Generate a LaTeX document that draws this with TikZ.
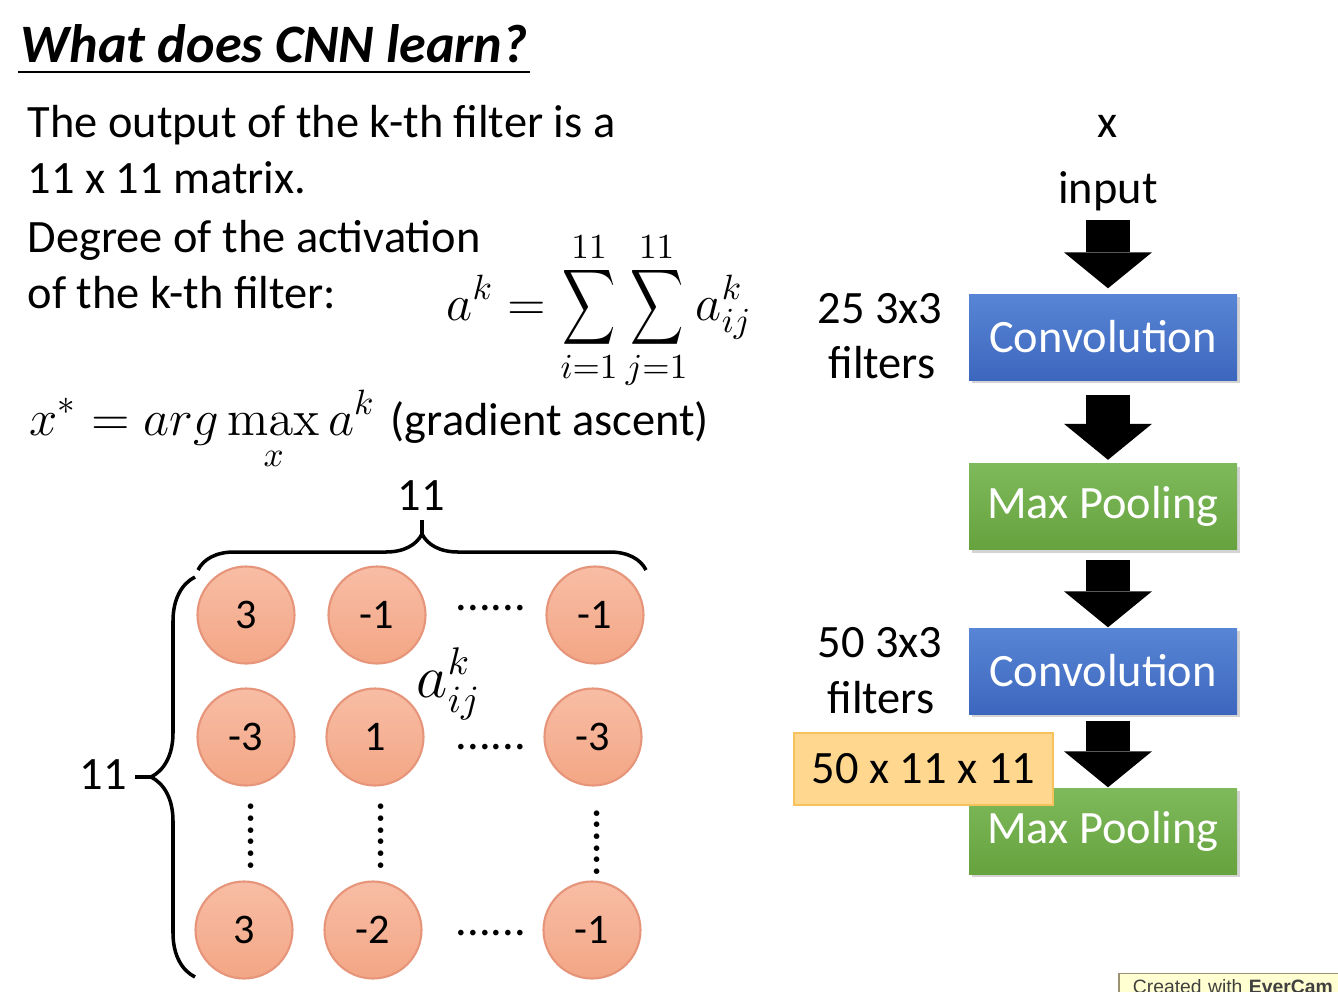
\documentclass[tikz,border=0pt]{standalone}
\usepackage[no-math]{fontspec}
\setmainfont{Carlito}
\newfontfamily\markfont{Liberation Sans}
\usepackage{tikz}
\usetikzlibrary{calc}
\usetikzlibrary{arrows.meta}
\usetikzlibrary{shadows}
\usetikzlibrary{decorations.pathreplacing}
\usetikzlibrary{positioning}
\newcommand{\bodysize}{\fontsize{13.2}{16}\selectfont}
\newcommand{\titlesize}{\fontsize{15.4}{18}\selectfont}
\newcommand{\mathsize}{\fontsize{14}{17}\selectfont}
\newcommand{\cellsize}{\fontsize{12}{14}\selectfont}
\newcommand{\tallsum}{\mathop{\vcenter{\hbox{\scalebox{1.05}[1.5]{$\displaystyle\sum$}}}}\limits}
\definecolor{convtop}{HTML}{5885D5}
\definecolor{convbot}{HTML}{3D67BE}
\definecolor{pooltop}{HTML}{7EBA5B}
\definecolor{poolbot}{HTML}{66A23D}
\definecolor{celltop}{HTML}{F8BDA5}
\definecolor{cellbot}{HTML}{F3A685}
\definecolor{celledge}{HTML}{E6957A}
\definecolor{sizefill}{HTML}{FFD78E}
\definecolor{sizeedge}{HTML}{F5C25C}
\definecolor{markfill}{HTML}{FFFFD2}
\definecolor{markedge}{HTML}{9C9170}
\tikzset{txt/.style={inner sep=0pt, font=\bodysize}}
\tikzset{cell/.style={circle, draw=celledge, line width=0.6pt, top color=celltop, bottom color=cellbot, minimum size=0.97cm, inner sep=0pt, font=\cellsize}}

\begin{document}
\begin{tikzpicture}
\tikzset{layer/.style={minimum width=2.68cm, minimum height=0.86cm, inner sep=0pt, text=white, font=\bodysize, drop shadow={shadow xshift=0.03cm, shadow yshift=-0.03cm, opacity=0.35}}}
\tikzset{conv/.style={layer, top color=convtop, bottom color=convbot}}
\tikzset{pool/.style={layer, top color=pooltop, bottom color=poolbot}}
\tikzset{sizebox/.style={draw=sizeedge, fill=sizefill, line width=0.6pt, minimum width=2.59cm, minimum height=0.72cm, inner sep=0pt, font=\bodysize}}
\tikzset{blockarrow/.style={line width=0.44cm, -{Triangle[width=0.88cm, length=0.36cm, line width=0pt]}}}
\tikzset{curly/.style={decorate, decoration={brace, amplitude=#1}, line width=1pt}}
\useasboundingbox (0,0) rectangle (13.38,-9.92);

\node[txt, anchor=base west, font=\titlesize\bfseries\itshape] (title) at (0.20,-0.62) {What does CNN learn?};
\draw[line width=0.8pt] ($(title.base west)+(-0.02,-0.10)$) -- ($(title.base east)+(0.02,-0.10)$);

\node[txt, anchor=base west] (line1) at (0.27,-1.37) {The output of the k-th filter is a};
\node[txt, anchor=base west] (line2) at (0.27,-1.93) {11 x 11 matrix.};
\node[txt, anchor=base west] (line3) at (0.27,-2.52) {Degree of the activation};
\node[txt, anchor=base west] (line4) at (0.27,-3.08) {of the k-th filter:};
\node[txt, anchor=base west, font=\mathsize] (sum) at (4.46,-3.20) {$\displaystyle a^k = \tallsum_{i=1}^{11}\tallsum_{j=1}^{11} a_{ij}^k$};
\node[txt, anchor=base west, font=\mathsize] (argmax) at (0.29,-4.35) {$\displaystyle x^* = arg\max_{\lower0.1cm\hbox{$\scriptstyle x$}} a^k$};
\node[txt, anchor=base west] (ascent) at (3.90,-4.35) {(gradient ascent)};

\node[txt, anchor=base] (x) at (11.08,-1.37) {x};
\node[txt, anchor=base] (input) at (11.08,-2.03) {input};
\node[conv] (conva) at (11.03,-3.37) {Convolution};
\node[pool] (poola) at (11.03,-5.065) {Max Pooling};
\node[conv] (convb) at (11.03,-6.71) {Convolution};
\node[pool] (poolb) at (11.03,-8.31) {Max Pooling};
\node[txt, anchor=base] (filta) at (8.80,-3.23) {25 3x3};
\node[txt, anchor=base] (filtb) at (8.82,-3.78) {filters};
\node[txt, anchor=base] (filtc) at (8.80,-6.57) {50 3x3};
\node[txt, anchor=base] (filtd) at (8.81,-7.13) {filters};

\coordinate (a1) at (11.08,-2.20);
\draw[blockarrow] (a1) -- ([xshift=0.05cm, yshift=0.05cm]conva.north);
\draw[blockarrow] ([xshift=0.05cm, yshift=-0.14cm]conva.south) -- ([xshift=0.05cm, yshift=0.03cm]poola.north);
\draw[blockarrow] ([xshift=0.05cm, yshift=-0.10cm]poola.south) -- ([xshift=0.05cm]convb.north);
\draw[blockarrow] ([xshift=0.05cm, yshift=-0.06cm]convb.south) -- ([xshift=0.05cm]poolb.north);
\node[sizebox] (volume) at (9.235,-7.69) {50 x 11 x 11};

% activation map
\node[cell] (c11) at (2.46,-6.15) {3};
\node[cell] (c12) at (3.77,-6.15) {-1};
\node[cell] (c13) at (5.95,-6.15) {-1};
\node[cell] (c21) at (2.46,-7.37) {-3};
\node[cell] (c22) at (3.75,-7.37) {1};
\node[cell] (c23) at (5.93,-7.37) {-3};
\node[cell] (c41) at (2.44,-9.30) {3};
\node[cell] (c42) at (3.73,-9.30) {-2};
\node[cell] (c43) at (5.92,-9.30) {-1};

\node[txt, anchor=base] (h1) at (4.91,-6.105) {......};
\node[txt, anchor=base] (h2) at (4.91,-7.495) {......};
\node[txt, anchor=base] (h4) at (4.91,-9.355) {......};
\node[txt, anchor=base, rotate=90] (v1) at (2.535,-8.36) {......};
\node[txt, anchor=base, rotate=90] (v2) at (3.835,-8.36) {......};
\node[txt, anchor=base, rotate=90] (v3) at (5.995,-8.425) {......};

\node[txt, anchor=base west, font=\fontsize{16}{18}\selectfont] (aij) at (4.16,-6.97) {$a_{ij}^k$};

\coordinate (btl) at (1.98,-5.70);
\coordinate (btr) at (6.46,-5.70);
\coordinate (btip) at (4.22,-5.34);
\node[txt, anchor=base] (ntop) at (4.21,-5.10) {11};
\draw[curly=0.36cm] (btl) -- (btr);
\draw[line width=1pt] (btip) -- ++(0,0.14);

\coordinate (bll) at (1.95,-9.77);
\coordinate (blt) at (1.95,-5.77);
\coordinate (ltip) at (1.51,-7.77);
\node[txt, anchor=base] (nleft) at (1.03,-7.89) {11};
\draw[curly=0.44cm] (bll) -- (blt);
\draw[line width=1pt, shorten <=0.08cm] (nleft.east |- ltip) -- (ltip);

\node[draw=markedge, fill=markfill, line width=0.5pt, anchor=base west, inner xsep=0.14cm, inner ysep=0.05cm, text height=0.15cm, text width=2.3cm, align=left, font=\markfont\fontsize{5.5}{6}\selectfont, text=black!75] (mark) at (11.18,-9.935) {Created with \textbf{EverCam}};
\end{tikzpicture}
\end{document}
